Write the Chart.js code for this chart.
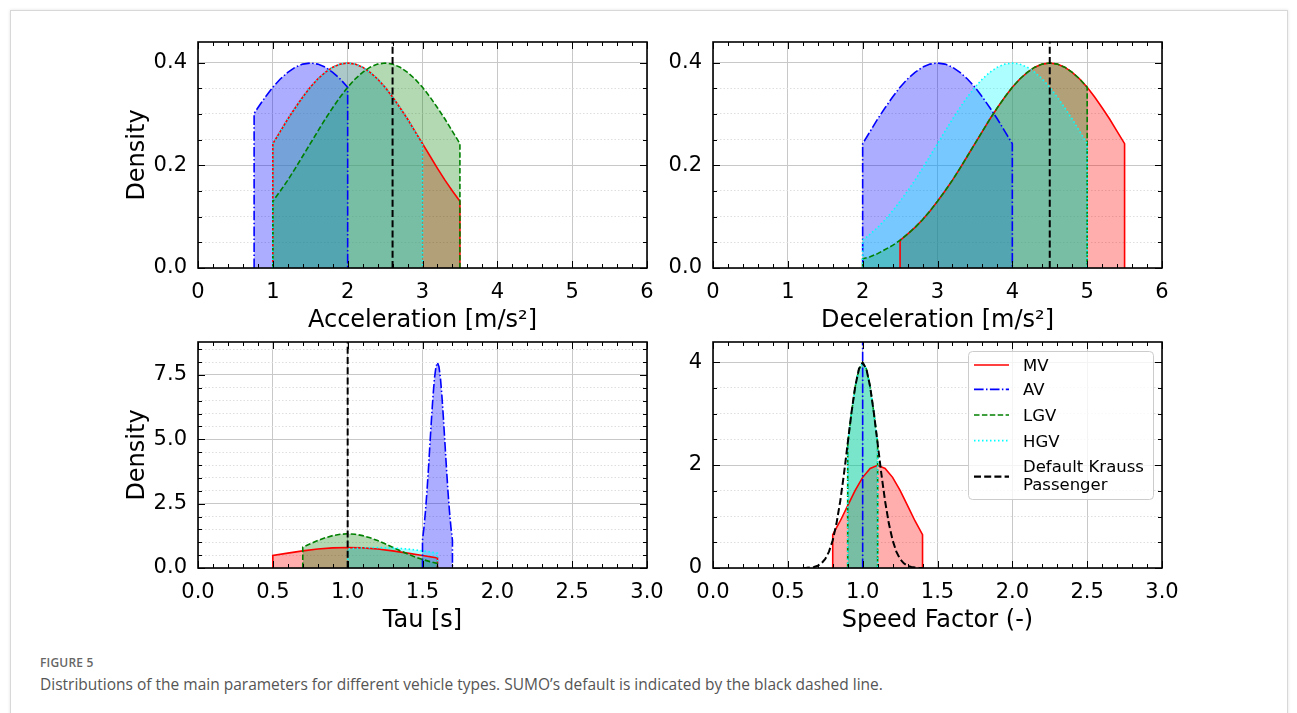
<!DOCTYPE html>
<html>
<head>
<meta charset="utf-8">
<script src="https://cdn.jsdelivr.net/npm/chart.js@4.4.0/dist/chart.umd.min.js"></script>
<style>
  body { margin: 0; width: 1297px; height: 713px; overflow: hidden; position: relative; background: #fff; }
  #card { position: absolute; left: 10px; top: 10px; width: 1276px; height: 760px; border: 1px solid #d8d8d8; box-shadow: 0 0 3px rgba(0,0,0,0.12); }
  canvas { position: absolute; }
  #legend { position: absolute; left: 968px; top: 351px; }
  .figno { position: absolute; left: 40px; top: 654px; font: 600 12px "Open Sans"; color: #666; letter-spacing: 0.2px; }
  .caption { position: absolute; left: 40px; top: 673px; font: 15.5px "Open Sans"; color: #555; }
</style>
</head>
<body>
<div id="card"></div>
<canvas id="accel" width="599" height="320" style="left:88px;top:18px"></canvas>
<canvas id="decel" width="599" height="320" style="left:603px;top:18px"></canvas>
<canvas id="tau" width="599" height="320" style="left:88px;top:318px"></canvas>
<canvas id="speed" width="599" height="320" style="left:603px;top:318px"></canvas>

<svg id="legend" width="188" height="152">
  <rect x="0.5" y="0.5" width="185" height="148" rx="4" fill="rgba(255,255,255,0.8)" stroke="#cccccc"/>
  <line x1="6" y1="14" x2="41" y2="14" stroke="#ff0000" stroke-width="1.7"/>
  <line x1="6" y1="38.3" x2="41" y2="38.3" stroke="#0000ff" stroke-width="1.7" stroke-dasharray="9.6 2.4 1.5 2.4"/>
  <line x1="6" y1="64" x2="41" y2="64" stroke="#008000" stroke-width="1.7" stroke-dasharray="5.5 2.4"/>
  <line x1="6" y1="89.7" x2="41" y2="89.7" stroke="#00ffff" stroke-width="1.7" stroke-dasharray="1.5 2.5"/>
  <line x1="6" y1="125.7" x2="41" y2="125.7" stroke="#000000" stroke-width="2.2" stroke-dasharray="7 3.2"/>
  <g font-family="DejaVu Sans" font-size="16.5" fill="#000">
    <text x="55" y="20">MV</text>
    <text x="55" y="44.3">AV</text>
    <text x="55" y="70">LGV</text>
    <text x="55" y="95.7">HGV</text>
    <text x="55" y="120.7">Default Krauss</text>
    <text x="55" y="139.3">Passenger</text>
  </g>
</svg>

<div class="figno">FIGURE 5</div>
<div class="caption">Distributions of the main parameters for different vehicle types. SUMO’s default is indicated by the black dashed line.</div>

<script>
// Acceleration [m/s²]
const accelMV_x = [1.0,1.1,1.2,1.3,1.4,1.5,1.6,1.7,1.8,1.9,2.0,2.1,2.2,2.3,2.4,2.5,2.6,2.7,2.8,2.9,3.0,3.1,3.2,3.3,3.4,3.5];
const accelMV_y = [0.242,0.266,0.290,0.312,0.333,0.352,0.368,0.381,0.391,0.397,0.399,0.397,0.391,0.381,0.368,0.352,0.333,0.312,0.290,0.266,0.242,0.218,0.194,0.171,0.150,0.130];
const accelAV_x = [0.75,0.8,0.9,1.0,1.1,1.2,1.3,1.4,1.5,1.6,1.7,1.8,1.9,2.0];
const accelAV_y = [0.301,0.312,0.333,0.352,0.368,0.381,0.391,0.397,0.399,0.397,0.391,0.381,0.368,0.352];
const accelLGV_x = [1.0,1.1,1.2,1.3,1.4,1.5,1.6,1.7,1.8,1.9,2.0,2.1,2.2,2.3,2.4,2.5,2.6,2.7,2.8,2.9,3.0,3.1,3.2,3.3,3.4,3.5];
const accelLGV_y = [0.130,0.150,0.171,0.194,0.218,0.242,0.266,0.290,0.312,0.333,0.352,0.368,0.381,0.391,0.397,0.399,0.397,0.391,0.381,0.368,0.352,0.333,0.312,0.290,0.266,0.242];
const accelHGV_x = [1.0,1.1,1.2,1.3,1.4,1.5,1.6,1.7,1.8,1.9,2.0,2.1,2.2,2.3,2.4,2.5,2.6,2.7,2.8,2.9,3.0];
const accelHGV_y = [0.242,0.266,0.290,0.312,0.333,0.352,0.368,0.381,0.391,0.397,0.399,0.397,0.391,0.381,0.368,0.352,0.333,0.312,0.290,0.266,0.242];
const accelDefault = 2.6;

// Deceleration [m/s²]
const decelMV_x = [2.5,2.6,2.7,2.8,2.9,3.0,3.1,3.2,3.3,3.4,3.5,3.6,3.7,3.8,3.9,4.0,4.1,4.2,4.3,4.4,4.5,4.6,4.7,4.8,4.9,5.0,5.1,5.2,5.3,5.4,5.5];
const decelMV_y = [0.054,0.066,0.079,0.094,0.111,0.130,0.150,0.171,0.194,0.218,0.242,0.266,0.290,0.312,0.333,0.352,0.368,0.381,0.391,0.397,0.399,0.397,0.391,0.381,0.368,0.352,0.333,0.312,0.290,0.266,0.242];
const decelAV_x = [2.0,2.1,2.2,2.3,2.4,2.5,2.6,2.7,2.8,2.9,3.0,3.1,3.2,3.3,3.4,3.5,3.6,3.7,3.8,3.9,4.0];
const decelAV_y = [0.242,0.266,0.290,0.312,0.333,0.352,0.368,0.381,0.391,0.397,0.399,0.397,0.391,0.381,0.368,0.352,0.333,0.312,0.290,0.266,0.242];
const decelLGV_x = [2.0,2.1,2.2,2.3,2.4,2.5,2.6,2.7,2.8,2.9,3.0,3.1,3.2,3.3,3.4,3.5,3.6,3.7,3.8,3.9,4.0,4.1,4.2,4.3,4.4,4.5,4.6,4.7,4.8,4.9,5.0];
const decelLGV_y = [0.018,0.022,0.028,0.036,0.044,0.054,0.066,0.079,0.094,0.111,0.130,0.150,0.171,0.194,0.218,0.242,0.266,0.290,0.312,0.333,0.352,0.368,0.381,0.391,0.397,0.399,0.397,0.391,0.381,0.368,0.352];
const decelHGV_x = [2.0,2.1,2.2,2.3,2.4,2.5,2.6,2.7,2.8,2.9,3.0,3.1,3.2,3.3,3.4,3.5,3.6,3.7,3.8,3.9,4.0,4.1,4.2,4.3,4.4,4.5,4.6,4.7,4.8,4.9,5.0];
const decelHGV_y = [0.054,0.066,0.079,0.094,0.111,0.130,0.150,0.171,0.194,0.218,0.242,0.266,0.290,0.312,0.333,0.352,0.368,0.381,0.391,0.397,0.399,0.397,0.391,0.381,0.368,0.352,0.333,0.312,0.290,0.266,0.242];
const decelDefault = 4.5;

// Tau [s]
const tauMV_x = [0.5,0.6,0.7,0.8,0.9,1.0,1.1,1.2,1.3,1.4,1.5,1.6];
const tauMV_y = [0.484,0.579,0.666,0.737,0.782,0.798,0.782,0.737,0.666,0.579,0.484,0.388];
const tauAV_x = [1.50,1.51,1.52,1.53,1.54,1.55,1.56,1.57,1.58,1.59,1.60,1.61,1.62,1.63,1.64,1.65,1.66,1.67,1.68,1.69,1.70];
const tauAV_y = [1.08,1.58,2.22,2.99,3.88,4.84,5.79,6.66,7.37,7.82,7.98,7.82,7.37,6.66,5.79,4.84,3.88,2.99,2.22,1.58,1.08];
const tauLGV_x = [0.70,0.75,0.80,0.85,0.90,0.95,1.00,1.05,1.10,1.15,1.20,1.25,1.30,1.35,1.40,1.45,1.50,1.55,1.60];
const tauLGV_y = [0.807,0.940,1.065,1.174,1.258,1.311,1.330,1.311,1.258,1.174,1.065,0.940,0.807,0.673,0.547,0.432,0.332,0.248,0.180];
const tauHGV_x = [1.0,1.1,1.2,1.3,1.4,1.5,1.6];
const tauHGV_y = [0.737,0.782,0.798,0.782,0.737,0.666,0.579];
const tauDefault = 1.0;

// Speed Factor (-)
const speedMV_x = [0.80,0.85,0.90,0.95,1.00,1.05,1.10,1.15,1.20,1.25,1.30,1.35,1.40];
const speedMV_y = [0.648,0.913,1.210,1.506,1.761,1.934,1.995,1.934,1.761,1.506,1.210,0.913,0.648];
const speedAV_x = [1.0, 1.0];   // AV speed factor is a single value: spike runs off the top
const speedAV_y = [0, 40];
const speedLGV_x = [0.900,0.925,0.950,0.975,1.000,1.025,1.050,1.075,1.100];
const speedLGV_y = [2.420,3.011,3.521,3.867,3.989,3.867,3.521,3.011,2.420];
const speedHGV_x = [0.900,0.925,0.950,0.975,1.000,1.025,1.050,1.075,1.100];
const speedHGV_y = [2.420,3.011,3.521,3.867,3.989,3.867,3.521,3.011,2.420];
const speedDefault_x = [0.600,0.625,0.650,0.675,0.700,0.725,0.750,0.775,0.800,0.825,0.850,0.875,0.900,0.925,0.950,0.975,1.000,1.025,1.050,1.075,1.100,1.125,1.150,1.175,1.200,1.225,1.250,1.275,1.300,1.325,1.350,1.375,1.400];
const speedDefault_y = [0.001,0.004,0.009,0.020,0.044,0.091,0.175,0.317,0.540,0.863,1.295,1.826,2.420,3.011,3.521,3.867,3.989,3.867,3.521,3.011,2.420,1.826,1.295,0.863,0.540,0.317,0.175,0.091,0.044,0.020,0.009,0.004,0.001];

Chart.defaults.font.family = "'DejaVu Sans'";
Chart.defaults.color = "#000";

const styles = {
  MV:  { color: "#ff0000", fill: "rgba(255,0,0,0.32)",   dash: [] },
  AV:  { color: "#0000ff", fill: "rgba(0,0,255,0.32)",   dash: [9.6, 2.4, 1.5, 2.4] },
  LGV: { color: "#008000", fill: "rgba(0,128,0,0.3)",    dash: [5.5, 2.4] },
  HGV: { color: "#00ffff", fill: "rgba(0,255,255,0.32)", dash: [1.5, 2.5] },
};

function toPoints(xs, ys) {
  return xs.map((x, i) => ({ x: x, y: ys[i] }));
}

// add the two drops to zero so the outline shows the vertical edges
function closedPoints(xs, ys) {
  return [{ x: xs[0], y: 0 }, ...toPoints(xs, ys), { x: xs[xs.length - 1], y: 0 }];
}

function filled(name, xs, ys, open) {
  const s = styles[name];
  return {
    label: name, data: open ? toPoints(xs, ys) : closedPoints(xs, ys),
    borderColor: s.color, backgroundColor: s.fill, borderDash: s.dash,
    borderWidth: 1.6, fill: "origin", pointRadius: 0, tension: 0,
  };
}

function blackDashed(points) {
  return {
    label: "Default", data: points, borderColor: "#000", borderDash: [7, 3.2],
    borderWidth: 2, fill: false, pointRadius: 0, tension: 0,
  };
}

const onStep = (v, step) => Math.abs(v / step - Math.round(v / step)) < 1e-6;

function frameTicks(p) {
  return {
    id: "frameTicks",
    afterDraw(chart) {
      const { ctx, chartArea: a } = chart;
      ctx.save();
      ctx.strokeStyle = "#000";
      ctx.lineWidth = 1;
      [["x", p.xMajor, p.xMinor], ["y", p.yMajor, p.yMinor]].forEach(([id, maj, min]) => {
        const s = chart.scales[id];
        s.ticks.forEach((t) => {
          if (!onStep(t.value, min)) return;
          const len = onStep(t.value, maj) ? 7 : 4;
          const q = Math.round(s.getPixelForValue(t.value)) + 0.5;
          ctx.beginPath();
          if (id === "x") {
            ctx.moveTo(q, a.bottom); ctx.lineTo(q, a.bottom - len);
            ctx.moveTo(q, a.top); ctx.lineTo(q, a.top + len);
          } else {
            ctx.moveTo(a.left, q); ctx.lineTo(a.left + len, q);
            ctx.moveTo(a.right, q); ctx.lineTo(a.right - len, q);
          }
          ctx.stroke();
        });
      });
      ctx.lineWidth = 1.6;
      ctx.strokeRect(a.left, a.top, a.right - a.left, a.bottom - a.top);
      ctx.restore();
    },
  };
}

function makeChart(id, p, datasets) {
  new Chart(document.getElementById(id), {
    type: "line",
    // later series drawn on top, like the original plot
    data: { datasets: datasets.slice().reverse() },
    options: {
      responsive: false,
      animation: false,
      layout: { padding: { top: 24, right: 40, left: 0, bottom: 0 } },
      plugins: {
        legend: { display: false },
        tooltip: { enabled: false },
        filler: { drawTime: "beforeDatasetsDraw" },
      },
      scales: {
        x: {
          type: "linear", min: 0, max: p.xMax,
          ticks: {
            stepSize: p.xMinor, autoSkip: false, maxRotation: 0, padding: 12, includeBounds: false,
            font: { size: 21 },
            callback: (v) => (onStep(v, p.xMajor) ? v.toFixed(p.xDec) : ""),
          },
          grid: {
            drawTicks: false,
            color: (c) => (c.tick && onStep(c.tick.value, p.xMajor) ? "#c8c8c8" : "rgba(0,0,0,0)"),
          },
          border: { display: false },
          title: { display: true, text: p.xTitle, font: { size: 24 }, padding: { top: 0, bottom: 3 } },
          afterFit: (s) => { s.height = 70; },
        },
        y: {
          type: "linear", min: 0, max: p.yMax,
          ticks: {
            stepSize: p.yMinor, autoSkip: false, padding: 11, includeBounds: false,
            font: { size: 21 },
            callback: (v) => (onStep(v, p.yMajor) ? v.toFixed(p.yDec) : ""),
          },
          grid: {
            drawTicks: false,
            color: (c) => (c.tick && onStep(c.tick.value, p.yMajor) ? "#c8c8c8" : "#dedede"),
          },
          border: {
            display: false,
            dash: (c) => (c.tick && onStep(c.tick.value, p.yMajor) ? [] : [1.5, 2]),
          },
          title: { display: !!p.yTitle, text: p.yTitle, font: { size: 24 }, padding: { top: 35, bottom: 0 } },
          afterFit: (s) => { s.width = 110; },
        },
      },
    },
    plugins: [frameTicks(p)],
  });
}

const accelPanel = { xMax: 6, xMajor: 1, xMinor: 0.2, xDec: 0, yMax: 0.44, yMajor: 0.2, yMinor: 0.05, yDec: 1, xTitle: "Acceleration [m/s²]", yTitle: "Density" };
const decelPanel = { xMax: 6, xMajor: 1, xMinor: 0.2, xDec: 0, yMax: 0.44, yMajor: 0.2, yMinor: 0.05, yDec: 1, xTitle: "Deceleration [m/s²]", yTitle: "" };
const tauPanel = { xMax: 3, xMajor: 0.5, xMinor: 0.1, xDec: 1, yMax: 8.78, yMajor: 2.5, yMinor: 0.5, yDec: 1, xTitle: "Tau [s]", yTitle: "Density" };
const speedPanel = { xMax: 3, xMajor: 0.5, xMinor: 0.1, xDec: 1, yMax: 4.39, yMajor: 2, yMinor: 0.5, yDec: 0, xTitle: "Speed Factor (-)", yTitle: "" };

makeChart("accel", accelPanel, [
  filled("MV", accelMV_x, accelMV_y),
  filled("AV", accelAV_x, accelAV_y),
  filled("LGV", accelLGV_x, accelLGV_y),
  filled("HGV", accelHGV_x, accelHGV_y),
  blackDashed([{ x: accelDefault, y: 0 }, { x: accelDefault, y: accelPanel.yMax }]),
]);

makeChart("decel", decelPanel, [
  filled("MV", decelMV_x, decelMV_y),
  filled("AV", decelAV_x, decelAV_y),
  filled("LGV", decelLGV_x, decelLGV_y),
  filled("HGV", decelHGV_x, decelHGV_y),
  blackDashed([{ x: decelDefault, y: 0 }, { x: decelDefault, y: decelPanel.yMax }]),
]);

makeChart("tau", tauPanel, [
  filled("MV", tauMV_x, tauMV_y),
  filled("AV", tauAV_x, tauAV_y),
  filled("LGV", tauLGV_x, tauLGV_y),
  filled("HGV", tauHGV_x, tauHGV_y),
  blackDashed([{ x: tauDefault, y: 0 }, { x: tauDefault, y: tauPanel.yMax }]),
]);

makeChart("speed", speedPanel, [
  filled("MV", speedMV_x, speedMV_y),
  filled("AV", speedAV_x, speedAV_y, true),
  filled("LGV", speedLGV_x, speedLGV_y),
  filled("HGV", speedHGV_x, speedHGV_y),
  blackDashed(toPoints(speedDefault_x, speedDefault_y)),
]);
</script>
</body>
</html>
